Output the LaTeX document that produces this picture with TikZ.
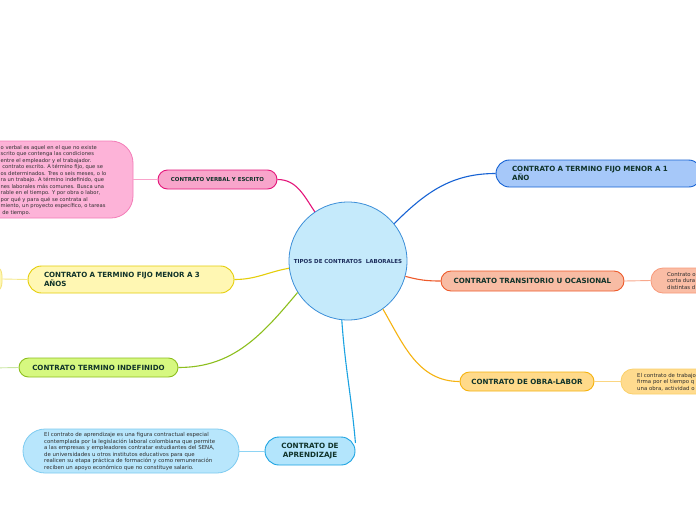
\documentclass[tikz,border=0pt]{standalone}
\usepackage{fontspec}
\setmainfont{DejaVu Sans}
\definecolor{labtxt}{HTML}{10332A}
\definecolor{dettxt}{HTML}{2E2E2E}
\definecolor{titletxt}{HTML}{1C2D5C}
\definecolor{cfill}{HTML}{C5EAFB}\definecolor{cdraw}{HTML}{3B8ED8}
\definecolor{pkfill}{HTML}{F8A5CB}\definecolor{pkdraw}{HTML}{E4157A}\definecolor{pkdfill}{HTML}{FDB3D8}\definecolor{pkddraw}{HTML}{F47DB8}\definecolor{pklink}{HTML}{F9A3CB}
\definecolor{blfill}{HTML}{A6C8F9}\definecolor{bldraw}{HTML}{1763D4}
\definecolor{yefill}{HTML}{FFF7B3}\definecolor{yedraw}{HTML}{E5CE0B}\definecolor{yeddraw}{HTML}{F3E27A}\definecolor{yelink}{HTML}{F5E88A}
\definecolor{safill}{HTML}{F8BCA4}\definecolor{sadraw}{HTML}{EE5A2A}\definecolor{sadfill}{HTML}{FABDA5}\definecolor{saddraw}{HTML}{F8997A}\definecolor{salink}{HTML}{F8A88C}
\definecolor{grfill}{HTML}{D6F880}\definecolor{grdraw}{HTML}{8DBF1E}\definecolor{grlink}{HTML}{C8E6A0}
\definecolor{orfill}{HTML}{FFDA8A}\definecolor{ordraw}{HTML}{F6B310}\definecolor{ordfill}{HTML}{FFDB8E}\definecolor{orddraw}{HTML}{FAD06A}\definecolor{orlink}{HTML}{FBD681}
\definecolor{cyfill}{HTML}{B3E5FC}\definecolor{cydraw}{HTML}{1CA3E2}\definecolor{cydfill}{HTML}{B8E6FC}\definecolor{cyddraw}{HTML}{7ECBF0}\definecolor{cylink}{HTML}{8ED4F4}
\tikzset{
  topic/.style={rectangle, rounded corners=#1, line width=0.9pt, inner sep=0pt, text=labtxt,
    font=\fontsize{7.1}{8.4}\selectfont\bfseries},
  detbox/.style={rectangle, rounded corners=#1, line width=0.8pt, inner sep=0pt},
  dettext/.style={inner sep=0pt, text=dettxt, align=left, font=\fontsize{5.4}{6.6}\selectfont},
  conn/.style={line width=1.1pt},
  link/.style={line width=0.9pt}
}
\begin{document}
\begin{tikzpicture}[x=1pt,y=-1pt]
\useasboundingbox (0,0) rectangle (696,520);
\clip (0,0) rectangle (696,520);
\fill[white] (0,0) rectangle (696,520);

% central topic
\node[circle, minimum size=118pt, inner sep=0pt, fill=cfill, draw=cdraw, line width=0.8pt,
  text=titletxt, font=\fontsize{5.5}{6.2}\selectfont\bfseries] (c) at (348,261) {TIPOS DE CONTRATOS\ \ LABORALES};

% ---- verbal y escrito
\node[topic=9.5pt, fill=pkfill, draw=pkdraw, minimum width=119pt, minimum height=19pt,
  font=\fontsize{5.45}{6.2}\selectfont\bfseries] (verbal) at (217.5,179.5) {CONTRATO VERBAL Y ESCRITO};
\node[detbox=22pt, fill=pkdfill, draw=pkddraw, minimum width=203pt, minimum height=77pt] (verbaldet) at (31.5,179.5) {};
\node[dettext, anchor=west, font=\fontsize{5.2}{6.5}\selectfont] (verbaltxt) at (0.5,180.5) {o verbal es aquel en el que no existe\\
scrito que contenga las condiciones\\
entre el empleador y el trabajador.\\
\ contrato escrito. A término fijo, que se\\
os determinados. Tres o seis meses, o lo\\
ra un trabajo. A término indefinido, que\\
nes laborales más comunes. Busca una\\
rable en el tiempo. Y por obra o labor,\\
por qué y para qué se contrata al\\
miento, un proyecto específico, o tareas\\
\ de tiempo.};
\draw[link, pklink] (verbaldet.east) -- (verbal.west);
\draw[conn, pkdraw] (c.124) to[out=124,in=0] (verbal.east);

% ---- fijo 1 ano
\node[topic=13.5pt, fill=blfill, draw=bldraw, minimum width=206pt, minimum height=27pt,
  text width=174pt, align=left] (fijo1) at (599,173.5) {CONTRATO A TERMINO FIJO MENOR A 1\\AÑO};
\draw[conn, bldraw] (c.39) to[out=45,in=180] (fijo1.west);

% ---- fijo 3 anos
\node[topic=13.5pt, fill=yefill, draw=yedraw, minimum width=206pt, minimum height=27pt,
  text width=174pt, align=left] (fijo3) at (131,279.5) {CONTRATO A TERMINO FIJO MENOR A 3\\AÑOS};
\node[detbox=14pt, fill=yefill, draw=yeddraw, minimum width=62pt, minimum height=34pt] (fijo3det) at (-29,279) {};
\draw[link, yelink] (fijo3det.east) -- (fijo3.west);
\draw[conn, yedraw] (c.187) to[out=190,in=0] (fijo3.east);

% ---- transitorio
\node[topic=10pt, fill=safill, draw=sadraw, minimum width=183pt, minimum height=20pt] (trans) at (532.5,281) {CONTRATO TRANSITORIO U OCASIONAL};
\node[detbox=12pt, fill=sadfill, draw=saddraw, minimum width=108pt, minimum height=25pt] (transdet) at (705,280.5) {};
\node[dettext, anchor=west] (transtxt) at (667,281) {Contrato o\\corta dura\\distintas d};
\draw[link, salink] (trans.east) -- (transdet.west);
\draw[conn, sadraw] (c.-15) to[out=-15,in=180] (trans.west);

% ---- indefinido
\node[topic=9.5pt, fill=grfill, draw=grdraw, minimum width=159pt, minimum height=19pt] (indef) at (98.5,367.5) {CONTRATO TERMINO INDEFINIDO};
\coordinate (indefdet) at (-10,368);
\draw[link, grlink] (indefdet) -- (indef.west);
\draw[conn, grdraw] (c.212) to[out=230,in=0] (indef.east);

% ---- obra labor
\node[topic=9.5pt, fill=orfill, draw=ordraw, minimum width=134pt, minimum height=19pt] (obra) at (527,381.5) {CONTRATO DE OBRA-LABOR};
\node[detbox=12pt, fill=ordfill, draw=orddraw, minimum width=118pt, minimum height=25pt] (obradet) at (680,381.5) {};
\node[dettext, anchor=west] (obratxt) at (637,382) {El contrato de trabajo\\firma por el tiempo q\\una obra, actividad o};
\draw[link, orlink] (obra.east) -- (obradet.west);
\draw[conn, ordraw] (c.-54) to[out=-60,in=180] (obra.west);

% ---- aprendizaje
\node[topic=14pt, fill=cyfill, draw=cydraw, minimum width=90pt, minimum height=28pt, align=center,
  font=\fontsize{7.2}{8.4}\selectfont\bfseries] (apr) at (310,451) {CONTRATO DE\\APRENDIZAJE};
\node[detbox=22pt, fill=cydfill, draw=cyddraw, minimum width=216pt, minimum height=44pt] (aprdet) at (131,451) {};
\node[dettext, anchor=west] (aprtxt) at (44,451.5) {El contrato de aprendizaje es una figura contractual especial\\
contemplada por la legislación laboral colombiana que permite\\
a las empresas y empleadores contratar estudiantes del SENA,\\
de universidades u otros institutos educativos para que\\
realicen su etapa práctica de formación y como remuneración\\
reciben un apoyo económico que no constituye salario.};
\draw[link, cylink] (aprdet.east) -- (apr.west);
\draw[conn, cydraw] (c.264) to[out=-86,in=95] (apr.10);
\end{tikzpicture}
\end{document}
